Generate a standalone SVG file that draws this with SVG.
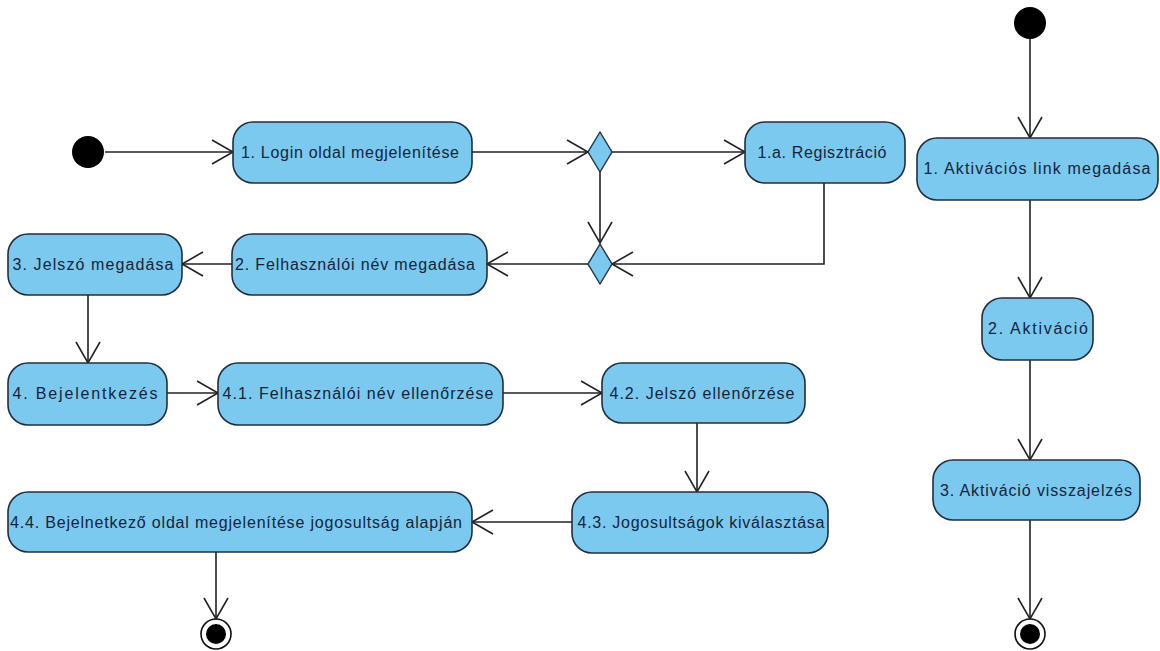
<svg xmlns="http://www.w3.org/2000/svg" width="1160" height="651" viewBox="0 0 1160 651">
<style>
.act{fill:#7cc9ef;stroke:#1f2f3f;stroke-width:1.6}
.dia{fill:#7cc9ef;stroke:#1f2f3f;stroke-width:1.4}
.lbl{font-family:"Liberation Sans",Arial,sans-serif;font-size:16px;fill:#14243a;text-anchor:middle}
.con{fill:none;stroke:#222;stroke-width:1.6}
</style>
<defs>
<marker id="arr" markerUnits="userSpaceOnUse" markerWidth="26" markerHeight="28" refX="23" refY="13" orient="auto">
<path d="M2,1 L23,13 L2,25" fill="none" stroke="#222" stroke-width="1.6"/>
</marker>
</defs>
<rect width="1160" height="651" fill="#fff"/>
<g id="connectors">
<path class="con" d="M105,152 H233" marker-end="url(#arr)"/>
<path class="con" d="M472,152 H588" marker-end="url(#arr)"/>
<path class="con" d="M612,152 H745" marker-end="url(#arr)"/>
<path class="con" d="M600,172 V243" marker-end="url(#arr)"/>
<path class="con" d="M824,183 V264 H612" marker-end="url(#arr)"/>
<path class="con" d="M588,264 H487" marker-end="url(#arr)"/>
<path class="con" d="M232,264 H182" marker-end="url(#arr)"/>
<path class="con" d="M88,295 V363" marker-end="url(#arr)"/>
<path class="con" d="M167,393 H218" marker-end="url(#arr)"/>
<path class="con" d="M503,393 H602" marker-end="url(#arr)"/>
<path class="con" d="M697,423 V492" marker-end="url(#arr)"/>
<path class="con" d="M572,522 H472" marker-end="url(#arr)"/>
<path class="con" d="M216,552 V619" marker-end="url(#arr)"/>
<path class="con" d="M1030,39 V138" marker-end="url(#arr)"/>
<path class="con" d="M1030,200 V298" marker-end="url(#arr)"/>
<path class="con" d="M1030,360 V460" marker-end="url(#arr)"/>
<path class="con" d="M1030,520 V619" marker-end="url(#arr)"/>
</g>
<g id="start1"><circle cx="88" cy="152" r="16" fill="#000"/></g>
<g id="start2"><circle cx="1030" cy="23" r="16" fill="#000"/></g>
<g id="n1"><rect class="act" x="233" y="122" width="239" height="61" rx="20"/><text class="lbl" x="350" y="158" textLength="218" lengthAdjust="spacing">1. Login oldal megjelenítése</text></g>
<g id="d1"><polygon class="dia" points="600,132 612,152 600,172 588,152"/></g>
<g id="n1a"><rect class="act" x="745" y="122" width="160" height="61" rx="20"/><text class="lbl" x="822" y="158" textLength="129" lengthAdjust="spacing">1.a. Regisztráció</text></g>
<g id="d2"><polygon class="dia" points="600,244 612,264 600,284 588,264"/></g>
<g id="n2"><rect class="act" x="232" y="234" width="255" height="61" rx="20"/><text class="lbl" x="355" y="270" textLength="240" lengthAdjust="spacing">2. Felhasználói név megadása</text></g>
<g id="n3"><rect class="act" x="8" y="234" width="174" height="61" rx="20"/><text class="lbl" x="93" y="270" textLength="161" lengthAdjust="spacing">3. Jelszó megadása</text></g>
<g id="n4"><rect class="act" x="8" y="363" width="159" height="62" rx="20"/><text class="lbl" x="85" y="399" textLength="145" lengthAdjust="spacing">4. Bejelentkezés</text></g>
<g id="n41"><rect class="act" x="218" y="363" width="285" height="62" rx="20"/><text class="lbl" x="358" y="399" textLength="271" lengthAdjust="spacing">4.1. Felhasználói név ellenőrzése</text></g>
<g id="n42"><rect class="act" x="602" y="363" width="203" height="60" rx="20"/><text class="lbl" x="702" y="399" textLength="185" lengthAdjust="spacing">4.2. Jelszó ellenőrzése</text></g>
<g id="n43"><rect class="act" x="572" y="492" width="256" height="61" rx="20"/><text class="lbl" x="701" y="528" textLength="247" lengthAdjust="spacing">4.3. Jogosultságok kiválasztása</text></g>
<g id="n44"><rect class="act" x="8" y="492" width="464" height="60" rx="20"/><text class="lbl" x="236" y="528" textLength="452" lengthAdjust="spacing">4.4. Bejelnetkező oldal megjelenítése jogosultság alapján</text></g>
<g id="end1"><circle cx="216" cy="634" r="15" fill="#fff" stroke="#111" stroke-width="1.6"/><circle cx="216" cy="634" r="10" fill="#000"/></g>
<g id="r1"><rect class="act" x="917" y="138" width="241" height="62" rx="20"/><text class="lbl" x="1037" y="174" textLength="227" lengthAdjust="spacing">1. Aktivációs link megadása</text></g>
<g id="r2"><rect class="act" x="982" y="298" width="111" height="62" rx="20"/><text class="lbl" x="1038" y="334" textLength="100" lengthAdjust="spacing">2. Aktiváció</text></g>
<g id="r3"><rect class="act" x="933" y="460" width="207" height="60" rx="20"/><text class="lbl" x="1036" y="496" textLength="192" lengthAdjust="spacing">3. Aktiváció visszajelzés</text></g>
<g id="end2"><circle cx="1030" cy="634" r="15" fill="#fff" stroke="#111" stroke-width="1.6"/><circle cx="1030" cy="634" r="10" fill="#000"/></g>
</svg>
